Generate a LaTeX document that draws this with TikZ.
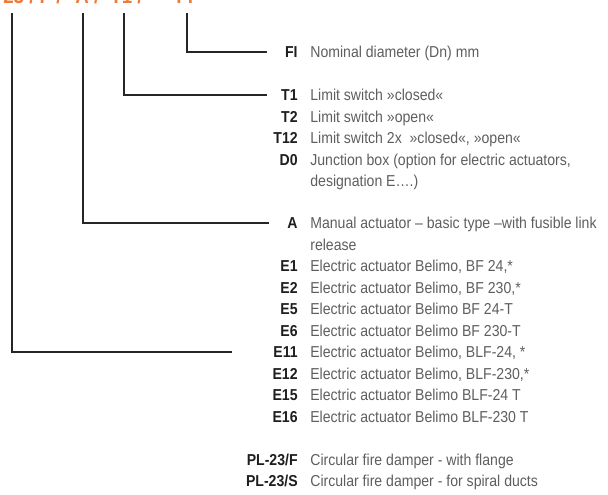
\documentclass[tikz,border=0pt]{standalone}
\usepackage{fontspec}
\setmainfont{Liberation Sans}[FakeStretch=0.89]
\usepackage{tikz}
\usetikzlibrary{positioning}
\definecolor{ink}{HTML}{1E1E1E}
\definecolor{muted}{HTML}{5E5E5E}
\definecolor{lead}{HTML}{262626}
\definecolor{headorange}{HTML}{EE7B3C}
\tikzset{
  code/.style={font=\fontsize{9}{11}\selectfont\bfseries,text=ink,anchor=east,
    inner sep=0pt,text height=8.4pt,text depth=2pt},
  desc/.style={font=\fontsize{9}{11}\selectfont,text=muted,anchor=west,
    inner sep=0pt,text height=8.4pt,text depth=2pt},
  head/.style={font=\fontsize{12}{14}\selectfont\bfseries,text=headorange,inner sep=0pt},
  leader/.style={draw=lead,line width=0.75pt},
}
\begin{document}
\begin{tikzpicture}[x=0.02cm,y=-0.02cm]
  \clip (0,0) rectangle (608,494);
  % order code (cut by the top edge)
  \node[head,anchor=base east] (hPL) at (62,3) {PL-23 / F /};
  \node[head,anchor=base west] (hA) at (75,3) {A /};
  \node[head,anchor=base west] (hT) at (110,3) {T1 /};
  \node[head,anchor=base west] (hFI) at (176,3) {FI};
  \coordinate (tPL) at (12,13);
  \coordinate (tA) at (83,13);
  \coordinate (tT) at (124,13);
  \coordinate (tFI) at (187,13);
  % nominal diameter
  \node[code] (cFI) at (298,52) {FI};   \node[desc] (dFI) at (310,52) {Nominal diameter (Dn) mm};
  % limit switches, junction box
  \node[code] (cT1) at (298,95) {T1};   \node[desc] (dT1) at (310,95) {Limit switch »closed«};
  \node[code] (cT2) at (298,116.5) {T2};   \node[desc] (dT2) at (310,116.5) {Limit switch »open«};
  \node[code] (cT12) at (298,138) {T12};   \node[desc] (dT12) at (310,138) {Limit switch 2x \ »closed«, »open«};
  \node[code] (cD0) at (298,159.5) {D0};   \node[desc] (dD0) at (310,159.5) {Junction box (option for electric actuators,};
  \node[desc] (dD0b) at (310,181) {designation E….)};
  % actuators
  \node[code] (cA) at (298,223) {A};   \node[desc] (dA) at (310,223) {Manual actuator – basic type –with fusible link};
  \node[desc] (dAb) at (310,244.5) {release};
  \node[code] (cE1) at (298,266) {E1};   \node[desc] (dE1) at (310,266) {Electric actuator Belimo, BF 24,*};
  \node[code] (cE2) at (298,287.5) {E2};   \node[desc] (dE2) at (310,287.5) {Electric actuator Belimo, BF 230,*};
  \node[code] (cE5) at (298,309) {E5};   \node[desc] (dE5) at (310,309) {Electric actuator Belimo BF 24-T};
  \node[code] (cE6) at (298,330.5) {E6};   \node[desc] (dE6) at (310,330.5) {Electric actuator Belimo BF 230-T};
  \node[code] (cE11) at (298,352) {E11};   \node[desc] (dE11) at (310,352) {Electric actuator Belimo, BLF-24, *};
  \node[code] (cE12) at (298,373.5) {E12};   \node[desc] (dE12) at (310,373.5) {Electric actuator Belimo, BLF-230,*};
  \node[code] (cE15) at (298,395) {E15};   \node[desc] (dE15) at (310,395) {Electric actuator Belimo BLF-24 T};
  \node[code] (cE16) at (298,416.5) {E16};   \node[desc] (dE16) at (310,416.5) {Electric actuator Belimo BLF-230 T};
  % damper type
  \node[code] (cPLF) at (298,459.5) {PL-23/F};   \node[desc] (dPLF) at (310,459.5) {Circular fire damper - with flange};
  \node[code] (cPLS) at (298,481) {PL-23/S};   \node[desc] (dPLS) at (310,481) {Circular fire damper - for spiral ducts};
  % leaders
  \draw[leader,shorten >=0.35cm] (tFI) |- (cFI);
  \draw[leader,shorten >=0.27cm] (tT) |- (cT1);
  \draw[leader,shorten >=0.36cm] (tA) |- (cA);
  \draw[leader,shorten >=0.82cm] (tPL) |- (cE11);
\end{tikzpicture}
\end{document}
